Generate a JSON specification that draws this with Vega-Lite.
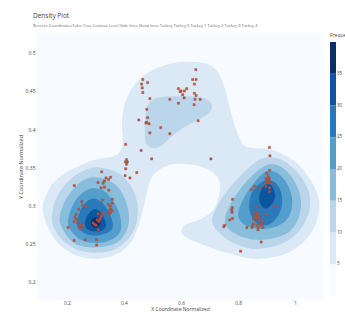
{
"$schema": "https://vega.github.io/schema/vega-lite/v6.json",
"width": 286, "height": 267,
"autosize": {"type": "none"},
"padding": {"left": 37, "top": 33, "right": 22, "bottom": 12},
"background": "white",
"config": {
  "font": "Open Sans",
  "view": {"fill": "#f7fbff", "stroke": null},
  "axis": {"labelFontSize": 5, "labelColor": "#444", "titleFontSize": 5.5, "titleColor": "#444", "titleFontWeight": "normal", "ticks": false, "domain": false, "grid": false, "labelPadding": 2, "titlePadding": 2},
  "axisX": {"labelPadding": 0.5, "titlePadding": 1, "titleFontSize": 5, "labelFontSize": 4.8}
},
"title": {"text": "Density Plot", "subtitle": "Reverse Coordinates   False   True          Contour Level   Hide lines   Show lines   Turkey   Turkey 0   Turkey 1   Turkey 2   Turkey 3   Turkey 4", "anchor": "start", "frame": "group", "dx": -4, "fontSize": 6.5, "fontWeight": "normal", "color": "#444", "subtitleFontSize": 4, "subtitleColor": "#666", "subtitlePadding": 5, "offset": 5},
"datasets": {
 "contours": [
  {"lv":5,"g":"A","i":1,"x":0.116,"y":0.292},{"lv":5,"g":"A","i":2,"x":0.126,"y":0.313},{"lv":5,"g":"A","i":3,"x":0.158,"y":0.332},{"lv":5,"g":"A","i":4,"x":0.211,"y":0.346},{"lv":5,"g":"A","i":5,"x":0.281,"y":0.358},{"lv":5,"g":"A","i":6,"x":0.344,"y":0.363},{"lv":5,"g":"A","i":7,"x":0.382,"y":0.368},{"lv":5,"g":"A","i":8,"x":0.396,"y":0.383},{"lv":5,"g":"A","i":9,"x":0.393,"y":0.407},{"lv":5,"g":"A","i":10,"x":0.400,"y":0.429},{"lv":5,"g":"A","i":11,"x":0.421,"y":0.449},{"lv":5,"g":"A","i":12,"x":0.456,"y":0.466},{"lv":5,"g":"A","i":13,"x":0.509,"y":0.479},{"lv":5,"g":"A","i":14,"x":0.579,"y":0.487},{"lv":5,"g":"A","i":15,"x":0.649,"y":0.488},{"lv":5,"g":"A","i":16,"x":0.702,"y":0.484},{"lv":5,"g":"A","i":17,"x":0.733,"y":0.472},{"lv":5,"g":"A","i":18,"x":0.754,"y":0.453},{"lv":5,"g":"A","i":19,"x":0.772,"y":0.426},{"lv":5,"g":"A","i":20,"x":0.793,"y":0.400},{"lv":5,"g":"A","i":21,"x":0.818,"y":0.380},{"lv":5,"g":"A","i":22,"x":0.860,"y":0.375},{"lv":5,"g":"A","i":23,"x":0.905,"y":0.374},{"lv":5,"g":"A","i":24,"x":0.958,"y":0.367},{"lv":5,"g":"A","i":25,"x":1.011,"y":0.354},{"lv":5,"g":"A","i":26,"x":1.053,"y":0.334},{"lv":5,"g":"A","i":27,"x":1.081,"y":0.312},{"lv":5,"g":"A","i":28,"x":1.084,"y":0.292},{"lv":5,"g":"A","i":29,"x":1.067,"y":0.271},{"lv":5,"g":"A","i":30,"x":1.032,"y":0.253},{"lv":5,"g":"A","i":31,"x":0.982,"y":0.239},{"lv":5,"g":"A","i":32,"x":0.919,"y":0.232},{"lv":5,"g":"A","i":33,"x":0.849,"y":0.230},{"lv":5,"g":"A","i":34,"x":0.779,"y":0.236},{"lv":5,"g":"A","i":35,"x":0.716,"y":0.243},{"lv":5,"g":"A","i":36,"x":0.660,"y":0.251},{"lv":5,"g":"A","i":37,"x":0.618,"y":0.258},{"lv":5,"g":"A","i":38,"x":0.600,"y":0.266},{"lv":5,"g":"A","i":39,"x":0.618,"y":0.275},{"lv":5,"g":"A","i":40,"x":0.667,"y":0.282},{"lv":5,"g":"A","i":41,"x":0.709,"y":0.292},{"lv":5,"g":"A","i":42,"x":0.730,"y":0.308},{"lv":5,"g":"A","i":43,"x":0.737,"y":0.328},{"lv":5,"g":"A","i":44,"x":0.719,"y":0.341},{"lv":5,"g":"A","i":45,"x":0.677,"y":0.350},{"lv":5,"g":"A","i":46,"x":0.625,"y":0.354},{"lv":5,"g":"A","i":47,"x":0.568,"y":0.354},{"lv":5,"g":"A","i":48,"x":0.526,"y":0.347},{"lv":5,"g":"A","i":49,"x":0.498,"y":0.337},{"lv":5,"g":"A","i":50,"x":0.481,"y":0.318},{"lv":5,"g":"A","i":51,"x":0.467,"y":0.295},{"lv":5,"g":"A","i":52,"x":0.446,"y":0.268},{"lv":5,"g":"A","i":53,"x":0.414,"y":0.247},{"lv":5,"g":"A","i":54,"x":0.361,"y":0.234},{"lv":5,"g":"A","i":55,"x":0.298,"y":0.230},{"lv":5,"g":"A","i":56,"x":0.235,"y":0.234},{"lv":5,"g":"A","i":57,"x":0.182,"y":0.246},{"lv":5,"g":"A","i":58,"x":0.144,"y":0.263},
  {"lv":10,"g":"L","i":1,"x":0.147,"y":0.284},{"lv":10,"g":"L","i":2,"x":0.161,"y":0.308},{"lv":10,"g":"L","i":3,"x":0.196,"y":0.328},{"lv":10,"g":"L","i":4,"x":0.246,"y":0.343},{"lv":10,"g":"L","i":5,"x":0.298,"y":0.350},{"lv":10,"g":"L","i":6,"x":0.351,"y":0.347},{"lv":10,"g":"L","i":7,"x":0.400,"y":0.337},{"lv":10,"g":"L","i":8,"x":0.435,"y":0.318},{"lv":10,"g":"L","i":9,"x":0.449,"y":0.295},{"lv":10,"g":"L","i":10,"x":0.439,"y":0.271},{"lv":10,"g":"L","i":11,"x":0.407,"y":0.253},{"lv":10,"g":"L","i":12,"x":0.358,"y":0.241},{"lv":10,"g":"L","i":13,"x":0.298,"y":0.238},{"lv":10,"g":"L","i":14,"x":0.235,"y":0.242},{"lv":10,"g":"L","i":15,"x":0.186,"y":0.254},{"lv":10,"g":"L","i":16,"x":0.158,"y":0.268},
  {"lv":10,"g":"T","i":1,"x":0.474,"y":0.387},{"lv":10,"g":"T","i":2,"x":0.474,"y":0.413},{"lv":10,"g":"T","i":3,"x":0.481,"y":0.429},{"lv":10,"g":"T","i":4,"x":0.498,"y":0.438},{"lv":10,"g":"T","i":5,"x":0.533,"y":0.442},{"lv":10,"g":"T","i":6,"x":0.596,"y":0.443},{"lv":10,"g":"T","i":7,"x":0.660,"y":0.442},{"lv":10,"g":"T","i":8,"x":0.695,"y":0.438},{"lv":10,"g":"T","i":9,"x":0.709,"y":0.430},{"lv":10,"g":"T","i":10,"x":0.698,"y":0.421},{"lv":10,"g":"T","i":11,"x":0.660,"y":0.412},{"lv":10,"g":"T","i":12,"x":0.614,"y":0.403},{"lv":10,"g":"T","i":13,"x":0.572,"y":0.392},{"lv":10,"g":"T","i":14,"x":0.537,"y":0.380},{"lv":10,"g":"T","i":15,"x":0.509,"y":0.375},{"lv":10,"g":"T","i":16,"x":0.484,"y":0.378},
  {"lv":10,"g":"R","i":1,"x":0.709,"y":0.279},{"lv":10,"g":"R","i":2,"x":0.730,"y":0.301},{"lv":10,"g":"R","i":3,"x":0.772,"y":0.324},{"lv":10,"g":"R","i":4,"x":0.825,"y":0.345},{"lv":10,"g":"R","i":5,"x":0.870,"y":0.359},{"lv":10,"g":"R","i":6,"x":0.912,"y":0.363},{"lv":10,"g":"R","i":7,"x":0.958,"y":0.359},{"lv":10,"g":"R","i":8,"x":1.004,"y":0.345},{"lv":10,"g":"R","i":9,"x":1.039,"y":0.326},{"lv":10,"g":"R","i":10,"x":1.053,"y":0.308},{"lv":10,"g":"R","i":11,"x":1.046,"y":0.288},{"lv":10,"g":"R","i":12,"x":1.018,"y":0.268},{"lv":10,"g":"R","i":13,"x":0.972,"y":0.253},{"lv":10,"g":"R","i":14,"x":0.912,"y":0.245},{"lv":10,"g":"R","i":15,"x":0.849,"y":0.243},{"lv":10,"g":"R","i":16,"x":0.789,"y":0.250},{"lv":10,"g":"R","i":17,"x":0.740,"y":0.262},
  {"lv":15,"g":"L","i":1,"x":0.175,"y":0.279},{"lv":15,"g":"L","i":2,"x":0.186,"y":0.300},{"lv":15,"g":"L","i":3,"x":0.214,"y":0.318},{"lv":15,"g":"L","i":4,"x":0.253,"y":0.332},{"lv":15,"g":"L","i":5,"x":0.291,"y":0.337},{"lv":15,"g":"L","i":6,"x":0.337,"y":0.334},{"lv":15,"g":"L","i":7,"x":0.379,"y":0.324},{"lv":15,"g":"L","i":8,"x":0.407,"y":0.305},{"lv":15,"g":"L","i":9,"x":0.418,"y":0.282},{"lv":15,"g":"L","i":10,"x":0.404,"y":0.263},{"lv":15,"g":"L","i":11,"x":0.368,"y":0.250},{"lv":15,"g":"L","i":12,"x":0.309,"y":0.245},{"lv":15,"g":"L","i":13,"x":0.246,"y":0.247},{"lv":15,"g":"L","i":14,"x":0.204,"y":0.258},
  {"lv":15,"g":"R","i":1,"x":0.754,"y":0.282},{"lv":15,"g":"R","i":2,"x":0.772,"y":0.301},{"lv":15,"g":"R","i":3,"x":0.807,"y":0.321},{"lv":15,"g":"R","i":4,"x":0.849,"y":0.339},{"lv":15,"g":"R","i":5,"x":0.891,"y":0.351},{"lv":15,"g":"R","i":6,"x":0.919,"y":0.354},{"lv":15,"g":"R","i":7,"x":0.954,"y":0.350},{"lv":15,"g":"R","i":8,"x":0.989,"y":0.337},{"lv":15,"g":"R","i":9,"x":1.014,"y":0.318},{"lv":15,"g":"R","i":10,"x":1.021,"y":0.299},{"lv":15,"g":"R","i":11,"x":1.007,"y":0.279},{"lv":15,"g":"R","i":12,"x":0.975,"y":0.264},{"lv":15,"g":"R","i":13,"x":0.923,"y":0.257},{"lv":15,"g":"R","i":14,"x":0.860,"y":0.255},{"lv":15,"g":"R","i":15,"x":0.800,"y":0.261},{"lv":15,"g":"R","i":16,"x":0.765,"y":0.270},
  {"lv":20,"g":"L","i":1,"x":0.204,"y":0.276},{"lv":20,"g":"L","i":2,"x":0.214,"y":0.295},{"lv":20,"g":"L","i":3,"x":0.239,"y":0.311},{"lv":20,"g":"L","i":4,"x":0.274,"y":0.321},{"lv":20,"g":"L","i":5,"x":0.302,"y":0.322},{"lv":20,"g":"L","i":6,"x":0.337,"y":0.317},{"lv":20,"g":"L","i":7,"x":0.365,"y":0.304},{"lv":20,"g":"L","i":8,"x":0.386,"y":0.287},{"lv":20,"g":"L","i":9,"x":0.389,"y":0.268},{"lv":20,"g":"L","i":10,"x":0.365,"y":0.257},{"lv":20,"g":"L","i":11,"x":0.316,"y":0.251},{"lv":20,"g":"L","i":12,"x":0.260,"y":0.253},{"lv":20,"g":"L","i":13,"x":0.225,"y":0.262},
  {"lv":20,"g":"R","i":1,"x":0.800,"y":0.288},{"lv":20,"g":"R","i":2,"x":0.818,"y":0.308},{"lv":20,"g":"R","i":3,"x":0.849,"y":0.326},{"lv":20,"g":"R","i":4,"x":0.884,"y":0.341},{"lv":20,"g":"R","i":5,"x":0.912,"y":0.345},{"lv":20,"g":"R","i":6,"x":0.944,"y":0.341},{"lv":20,"g":"R","i":7,"x":0.972,"y":0.328},{"lv":20,"g":"R","i":8,"x":0.989,"y":0.311},{"lv":20,"g":"R","i":9,"x":0.986,"y":0.292},{"lv":20,"g":"R","i":10,"x":0.961,"y":0.278},{"lv":20,"g":"R","i":11,"x":0.912,"y":0.270},{"lv":20,"g":"R","i":12,"x":0.856,"y":0.270},{"lv":20,"g":"R","i":13,"x":0.818,"y":0.276},
  {"lv":25,"g":"L","i":1,"x":0.235,"y":0.276},{"lv":25,"g":"L","i":2,"x":0.246,"y":0.292},{"lv":25,"g":"L","i":3,"x":0.267,"y":0.304},{"lv":25,"g":"L","i":4,"x":0.291,"y":0.309},{"lv":25,"g":"L","i":5,"x":0.319,"y":0.305},{"lv":25,"g":"L","i":6,"x":0.344,"y":0.293},{"lv":25,"g":"L","i":7,"x":0.361,"y":0.276},{"lv":25,"g":"L","i":8,"x":0.351,"y":0.266},{"lv":25,"g":"L","i":9,"x":0.312,"y":0.261},{"lv":25,"g":"L","i":10,"x":0.270,"y":0.262},{"lv":25,"g":"L","i":11,"x":0.246,"y":0.268},
  {"lv":25,"g":"R","i":1,"x":0.839,"y":0.301},{"lv":25,"g":"R","i":2,"x":0.849,"y":0.317},{"lv":25,"g":"R","i":3,"x":0.877,"y":0.329},{"lv":25,"g":"R","i":4,"x":0.905,"y":0.333},{"lv":25,"g":"R","i":5,"x":0.933,"y":0.329},{"lv":25,"g":"R","i":6,"x":0.951,"y":0.317},{"lv":25,"g":"R","i":7,"x":0.954,"y":0.301},{"lv":25,"g":"R","i":8,"x":0.940,"y":0.286},{"lv":25,"g":"R","i":9,"x":0.909,"y":0.275},{"lv":25,"g":"R","i":10,"x":0.870,"y":0.275},{"lv":25,"g":"R","i":11,"x":0.846,"y":0.287},
  {"lv":30,"g":"L","i":1,"x":0.263,"y":0.276},{"lv":30,"g":"L","i":2,"x":0.274,"y":0.288},{"lv":30,"g":"L","i":3,"x":0.295,"y":0.295},{"lv":30,"g":"L","i":4,"x":0.316,"y":0.292},{"lv":30,"g":"L","i":5,"x":0.330,"y":0.283},{"lv":30,"g":"L","i":6,"x":0.337,"y":0.274},{"lv":30,"g":"L","i":7,"x":0.323,"y":0.267},{"lv":30,"g":"L","i":8,"x":0.295,"y":0.266},{"lv":30,"g":"L","i":9,"x":0.274,"y":0.268},
  {"lv":30,"g":"R","i":1,"x":0.874,"y":0.311},{"lv":30,"g":"R","i":2,"x":0.884,"y":0.322},{"lv":30,"g":"R","i":3,"x":0.902,"y":0.328},{"lv":30,"g":"R","i":4,"x":0.919,"y":0.325},{"lv":30,"g":"R","i":5,"x":0.930,"y":0.314},{"lv":30,"g":"R","i":6,"x":0.923,"y":0.304},{"lv":30,"g":"R","i":7,"x":0.902,"y":0.296},{"lv":30,"g":"R","i":8,"x":0.881,"y":0.300},
  {"lv":35,"g":"L","i":1,"x":0.284,"y":0.278},{"lv":35,"g":"L","i":2,"x":0.291,"y":0.283},{"lv":35,"g":"L","i":3,"x":0.305,"y":0.284},{"lv":35,"g":"L","i":4,"x":0.316,"y":0.280},{"lv":35,"g":"L","i":5,"x":0.316,"y":0.275},{"lv":35,"g":"L","i":6,"x":0.305,"y":0.271},{"lv":35,"g":"L","i":7,"x":0.291,"y":0.272}
 ],
 "pts": [
  {"x":0.652,"y":0.478},{"x":0.641,"y":0.465},{"x":0.653,"y":0.465},{"x":0.647,"y":0.459},{"x":0.466,"y":0.465},{"x":0.462,"y":0.459},{"x":0.483,"y":0.461},{"x":0.464,"y":0.454},{"x":0.466,"y":0.448},{"x":0.591,"y":0.453},{"x":0.600,"y":0.450},{"x":0.612,"y":0.450},{"x":0.620,"y":0.453},{"x":0.597,"y":0.449},{"x":0.647,"y":0.447},{"x":0.606,"y":0.445},{"x":0.611,"y":0.441},{"x":0.653,"y":0.444},{"x":0.649,"y":0.439},{"x":0.667,"y":0.439},{"x":0.491,"y":0.440},{"x":0.561,"y":0.439},{"x":0.591,"y":0.434},{"x":0.646,"y":0.432},{"x":0.480,"y":0.426},{"x":0.483,"y":0.415},{"x":0.452,"y":0.412},{"x":0.480,"y":0.409},{"x":0.477,"y":0.408},{"x":0.488,"y":0.407},{"x":0.660,"y":0.411},{"x":0.529,"y":0.402},{"x":0.491,"y":0.395},{"x":0.561,"y":0.394},{"x":0.406,"y":0.380},{"x":0.460,"y":0.372},{"x":0.497,"y":0.361},{"x":0.705,"y":0.361},{"x":0.409,"y":0.360},{"x":0.405,"y":0.357},{"x":0.412,"y":0.357},{"x":0.409,"y":0.354},{"x":0.406,"y":0.348},{"x":0.445,"y":0.343},{"x":0.404,"y":0.339},{"x":0.421,"y":0.336},
  {"x":0.322,"y":0.344},{"x":0.337,"y":0.336},{"x":0.353,"y":0.337},{"x":0.346,"y":0.334},{"x":0.331,"y":0.332},{"x":0.309,"y":0.330},{"x":0.327,"y":0.329},{"x":0.226,"y":0.326},{"x":0.320,"y":0.323},{"x":0.332,"y":0.324},{"x":0.347,"y":0.320},{"x":0.252,"y":0.305},{"x":0.325,"y":0.307},{"x":0.359,"y":0.308},{"x":0.255,"y":0.300},{"x":0.267,"y":0.298},{"x":0.359,"y":0.303},{"x":0.345,"y":0.301},{"x":0.352,"y":0.299},{"x":0.242,"y":0.295},{"x":0.354,"y":0.295},{"x":0.348,"y":0.294},{"x":0.359,"y":0.293},{"x":0.324,"y":0.291},{"x":0.309,"y":0.289},{"x":0.352,"y":0.290},{"x":0.345,"y":0.289},{"x":0.232,"y":0.288},{"x":0.322,"y":0.287},{"x":0.319,"y":0.285},{"x":0.228,"y":0.284},{"x":0.234,"y":0.282},{"x":0.316,"y":0.282},{"x":0.306,"y":0.281},{"x":0.225,"y":0.279},{"x":0.236,"y":0.277},{"x":0.292,"y":0.277},{"x":0.312,"y":0.279},{"x":0.297,"y":0.275},{"x":0.302,"y":0.274},{"x":0.246,"y":0.274},{"x":0.255,"y":0.274},{"x":0.243,"y":0.271},{"x":0.204,"y":0.271},{"x":0.248,"y":0.269},{"x":0.310,"y":0.268},{"x":0.225,"y":0.254},{"x":0.264,"y":0.255},{"x":0.304,"y":0.255},{"x":0.304,"y":0.248},
  {"x":0.910,"y":0.376},{"x":0.912,"y":0.365},{"x":0.911,"y":0.346},{"x":0.901,"y":0.342},{"x":0.906,"y":0.338},{"x":0.898,"y":0.335},{"x":0.904,"y":0.334},{"x":0.910,"y":0.335},{"x":0.901,"y":0.331},{"x":0.909,"y":0.331},{"x":0.896,"y":0.329},{"x":0.918,"y":0.329},{"x":0.857,"y":0.325},{"x":0.875,"y":0.323},{"x":0.898,"y":0.325},{"x":0.910,"y":0.323},{"x":0.846,"y":0.321},{"x":0.910,"y":0.318},{"x":0.781,"y":0.308},{"x":0.864,"y":0.298},{"x":0.930,"y":0.299},{"x":0.780,"y":0.297},{"x":0.778,"y":0.294},{"x":0.779,"y":0.291},{"x":0.860,"y":0.291},{"x":0.871,"y":0.290},{"x":0.866,"y":0.288},{"x":0.898,"y":0.288},{"x":0.860,"y":0.286},{"x":0.869,"y":0.285},{"x":0.874,"y":0.284},{"x":0.863,"y":0.283},{"x":0.854,"y":0.282},{"x":0.781,"y":0.283},{"x":0.771,"y":0.281},{"x":0.875,"y":0.280},{"x":0.887,"y":0.279},{"x":0.854,"y":0.276},{"x":0.883,"y":0.276},{"x":0.866,"y":0.274},{"x":0.880,"y":0.274},{"x":0.850,"y":0.273},{"x":0.753,"y":0.274},{"x":0.750,"y":0.272},{"x":0.831,"y":0.271},{"x":0.849,"y":0.271},{"x":0.871,"y":0.271},{"x":0.887,"y":0.271},{"x":0.870,"y":0.268},{"x":0.881,"y":0.252},{"x":0.809,"y":0.240}
 ]
},
"encoding": {
  "x": {"field": "x", "type": "quantitative", "scale": {"domain": [0.095, 1.098], "nice": false, "zero": false}, "axis": {"values": [0.2, 0.4, 0.6, 0.8, 1], "format": "~g", "title": "X Coordinate Normalized"}},
  "y": {"field": "y", "type": "quantitative", "scale": {"domain": [0.176, 0.526], "nice": false, "zero": false}, "axis": {"values": [0.2, 0.25, 0.3, 0.35, 0.4, 0.45, 0.5], "format": "~g", "title": "Y Coordinate Normalized"}}
},
"layer": [
  {"data": {"name": "contours"}, "transform": [{"filter": "datum.lv == 5"}], "mark": {"type": "line", "interpolate": "cardinal-closed", "strokeWidth": 0},
   "encoding": {"order": {"field": "i", "type": "quantitative"}, "detail": {"field": "g"},
     "fill": {"field": "lv", "type": "quantitative", "scale": {"type": "threshold", "domain": [5, 10, 15, 20, 25, 30, 35], "range": ["#f7fbff", "#dbe9f6", "#bbd6eb", "#88bedc", "#549ecd", "#2a7aba", "#0c56a0", "#08306b"]},
       "legend": {"title": "Frequency", "type": "gradient", "direction": "vertical", "orient": "right", "offset": 7, "padding": 0, "gradientLength": 254, "gradientThickness": 6, "gradientStrokeWidth": 0, "titleFontSize": 5, "titleFontWeight": "normal", "titleColor": "#444", "titlePadding": 4, "labelFontSize": 4.5, "labelColor": "#444", "labelOffset": 1}}}},
  {"data": {"name": "contours"}, "transform": [{"filter": "datum.lv == 10"}], "mark": {"type": "line", "interpolate": "cardinal-closed", "strokeWidth": 0},
   "encoding": {"order": {"field": "i", "type": "quantitative"}, "detail": {"field": "g"},
     "fill": {"field": "lv", "type": "quantitative", "scale": {"type": "threshold", "domain": [5, 10, 15, 20, 25, 30, 35], "range": ["#f7fbff", "#dbe9f6", "#bbd6eb", "#88bedc", "#549ecd", "#2a7aba", "#0c56a0", "#08306b"]},
       "legend": {"title": "Frequency", "type": "gradient", "direction": "vertical", "orient": "right", "offset": 7, "padding": 0, "gradientLength": 254, "gradientThickness": 6, "gradientStrokeWidth": 0, "titleFontSize": 5, "titleFontWeight": "normal", "titleColor": "#444", "titlePadding": 4, "labelFontSize": 4.5, "labelColor": "#444", "labelOffset": 1}}}},
  {"data": {"name": "contours"}, "transform": [{"filter": "datum.lv == 15"}], "mark": {"type": "line", "interpolate": "cardinal-closed", "strokeWidth": 0},
   "encoding": {"order": {"field": "i", "type": "quantitative"}, "detail": {"field": "g"},
     "fill": {"field": "lv", "type": "quantitative", "scale": {"type": "threshold", "domain": [5, 10, 15, 20, 25, 30, 35], "range": ["#f7fbff", "#dbe9f6", "#bbd6eb", "#88bedc", "#549ecd", "#2a7aba", "#0c56a0", "#08306b"]},
       "legend": {"title": "Frequency", "type": "gradient", "direction": "vertical", "orient": "right", "offset": 7, "padding": 0, "gradientLength": 254, "gradientThickness": 6, "gradientStrokeWidth": 0, "titleFontSize": 5, "titleFontWeight": "normal", "titleColor": "#444", "titlePadding": 4, "labelFontSize": 4.5, "labelColor": "#444", "labelOffset": 1}}}},
  {"data": {"name": "contours"}, "transform": [{"filter": "datum.lv == 20"}], "mark": {"type": "line", "interpolate": "cardinal-closed", "strokeWidth": 0},
   "encoding": {"order": {"field": "i", "type": "quantitative"}, "detail": {"field": "g"},
     "fill": {"field": "lv", "type": "quantitative", "scale": {"type": "threshold", "domain": [5, 10, 15, 20, 25, 30, 35], "range": ["#f7fbff", "#dbe9f6", "#bbd6eb", "#88bedc", "#549ecd", "#2a7aba", "#0c56a0", "#08306b"]},
       "legend": {"title": "Frequency", "type": "gradient", "direction": "vertical", "orient": "right", "offset": 7, "padding": 0, "gradientLength": 254, "gradientThickness": 6, "gradientStrokeWidth": 0, "titleFontSize": 5, "titleFontWeight": "normal", "titleColor": "#444", "titlePadding": 4, "labelFontSize": 4.5, "labelColor": "#444", "labelOffset": 1}}}},
  {"data": {"name": "contours"}, "transform": [{"filter": "datum.lv == 25"}], "mark": {"type": "line", "interpolate": "cardinal-closed", "strokeWidth": 0},
   "encoding": {"order": {"field": "i", "type": "quantitative"}, "detail": {"field": "g"},
     "fill": {"field": "lv", "type": "quantitative", "scale": {"type": "threshold", "domain": [5, 10, 15, 20, 25, 30, 35], "range": ["#f7fbff", "#dbe9f6", "#bbd6eb", "#88bedc", "#549ecd", "#2a7aba", "#0c56a0", "#08306b"]},
       "legend": {"title": "Frequency", "type": "gradient", "direction": "vertical", "orient": "right", "offset": 7, "padding": 0, "gradientLength": 254, "gradientThickness": 6, "gradientStrokeWidth": 0, "titleFontSize": 5, "titleFontWeight": "normal", "titleColor": "#444", "titlePadding": 4, "labelFontSize": 4.5, "labelColor": "#444", "labelOffset": 1}}}},
  {"data": {"name": "contours"}, "transform": [{"filter": "datum.lv == 30"}], "mark": {"type": "line", "interpolate": "cardinal-closed", "strokeWidth": 0},
   "encoding": {"order": {"field": "i", "type": "quantitative"}, "detail": {"field": "g"},
     "fill": {"field": "lv", "type": "quantitative", "scale": {"type": "threshold", "domain": [5, 10, 15, 20, 25, 30, 35], "range": ["#f7fbff", "#dbe9f6", "#bbd6eb", "#88bedc", "#549ecd", "#2a7aba", "#0c56a0", "#08306b"]},
       "legend": {"title": "Frequency", "type": "gradient", "direction": "vertical", "orient": "right", "offset": 7, "padding": 0, "gradientLength": 254, "gradientThickness": 6, "gradientStrokeWidth": 0, "titleFontSize": 5, "titleFontWeight": "normal", "titleColor": "#444", "titlePadding": 4, "labelFontSize": 4.5, "labelColor": "#444", "labelOffset": 1}}}},
  {"data": {"name": "contours"}, "transform": [{"filter": "datum.lv == 35"}], "mark": {"type": "line", "interpolate": "cardinal-closed", "strokeWidth": 0},
   "encoding": {"order": {"field": "i", "type": "quantitative"}, "detail": {"field": "g"},
     "fill": {"field": "lv", "type": "quantitative", "scale": {"type": "threshold", "domain": [5, 10, 15, 20, 25, 30, 35], "range": ["#f7fbff", "#dbe9f6", "#bbd6eb", "#88bedc", "#549ecd", "#2a7aba", "#0c56a0", "#08306b"]},
       "legend": {"title": "Frequency", "type": "gradient", "direction": "vertical", "orient": "right", "offset": 7, "padding": 0, "gradientLength": 254, "gradientThickness": 6, "gradientStrokeWidth": 0, "titleFontSize": 5, "titleFontWeight": "normal", "titleColor": "#444", "titlePadding": 4, "labelFontSize": 4.5, "labelColor": "#444", "labelOffset": 1}}}},
  {"data": {"name": "pts"}, "mark": {"type": "point", "shape": "square", "filled": true, "size": 5, "fill": "#dc4a2e", "stroke": "#6e5a55", "strokeWidth": 0.35, "opacity": 1}}
]
}
